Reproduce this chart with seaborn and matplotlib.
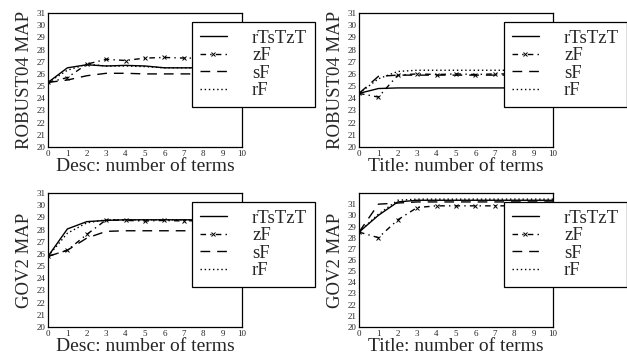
import numpy as np
import pandas as pd
import matplotlib
matplotlib.use("Agg")
import matplotlib.pyplot as plt
import seaborn as sns

terms = list(range(11))
methods = ["rTsTzT", "zF", "sF", "rF"]

# ROBUST04, Desc queries
r04_desc_rTsTzT = [25.3, 26.5, 26.75, 26.65, 26.7, 26.65, 26.5, 26.5, 26.5, 26.5, 26.5]
r04_desc_zF = [25.3, 25.7, 26.8, 27.2, 27.1, 27.3, 27.35, 27.3, 27.3, 27.3, 27.3]
r04_desc_sF = [25.3, 25.5, 25.85, 26.05, 26.05, 26.0, 26.0, 26.0, 26.0, 26.0, 26.0]
r04_desc_rF = [25.3, 26.3, 26.8, 26.65, 26.65, 26.6, 26.5, 26.5, 26.5, 26.5, 26.5]

# ROBUST04, Title queries
r04_title_rTsTzT = [24.4, 24.8, 24.85, 24.85, 24.85, 24.85, 24.85, 24.85, 24.85, 24.85, 24.85]
r04_title_zF = [24.4, 24.1, 25.9, 26.0, 25.95, 26.0, 25.95, 26.0, 26.0, 26.0, 26.0]
r04_title_sF = [24.4, 25.8, 25.9, 25.9, 25.9, 25.9, 25.9, 25.9, 25.9, 25.9, 25.9]
r04_title_rF = [24.4, 25.6, 26.2, 26.3, 26.3, 26.3, 26.3, 26.3, 26.3, 26.3, 26.3]

# GOV2, Desc queries
gov2_desc_rTsTzT = [25.8, 28.05, 28.65, 28.75, 28.8, 28.8, 28.8, 28.8, 28.8, 28.8, 28.8]
gov2_desc_zF = [25.8, 26.3, 27.6, 28.8, 28.75, 28.7, 28.75, 28.7, 28.75, 28.75, 28.75]
gov2_desc_sF = [25.8, 26.3, 27.3, 27.85, 27.9, 27.9, 27.9, 27.9, 27.9, 27.9, 27.9]
gov2_desc_rF = [25.8, 27.7, 28.55, 28.8, 28.8, 28.8, 28.8, 28.8, 28.8, 28.8, 28.8]

# GOV2, Title queries
gov2_title_rTsTzT = [28.5, 30.0, 31.2, 31.35, 31.35, 31.35, 31.35, 31.35, 31.35, 31.35, 31.35]
gov2_title_zF = [28.5, 28.0, 29.6, 30.7, 30.85, 30.85, 30.85, 30.85, 30.85, 30.85, 30.85]
gov2_title_sF = [28.5, 31.0, 31.1, 31.2, 31.2, 31.2, 31.2, 31.2, 31.2, 31.2, 31.2]
gov2_title_rF = [28.5, 30.1, 31.35, 31.45, 31.45, 31.45, 31.45, 31.45, 31.45, 31.45, 31.45]

panels = [
    ("ROBUST04 MAP", "Desc: number of terms", 31,
     [r04_desc_rTsTzT, r04_desc_zF, r04_desc_sF, r04_desc_rF]),
    ("ROBUST04 MAP", "Title: number of terms", 31,
     [r04_title_rTsTzT, r04_title_zF, r04_title_sF, r04_title_rF]),
    ("GOV2 MAP", "Desc: number of terms", 31,
     [gov2_desc_rTsTzT, gov2_desc_zF, gov2_desc_sF, gov2_desc_rF]),
    ("GOV2 MAP", "Title: number of terms", 32,
     [gov2_title_rTsTzT, gov2_title_zF, gov2_title_sF, gov2_title_rF]),
]

styles = {
    "rTsTzT": dict(linestyle="-", marker=None),
    "zF": dict(linestyle=(0, (4, 3, 1, 3)), marker="x", markersize=3,
               markeredgewidth=0.7, markeredgecolor="black"),
    "sF": dict(linestyle=(0, (7, 5)), marker=None),
    "rF": dict(linestyle=(0, (1, 2)), marker=None),
}

sns.set_style("white")
plt.rcParams["font.family"] = ["Liberation Serif", "DejaVu Serif"]

W, H = 627, 360
fig = plt.figure(figsize=(W / 100, H / 100), dpi=100)

# axes boxes in pixels: left, top, right, bottom
boxes = [(48, 13, 242, 147), (359, 13, 553, 147),
         (48, 193, 242, 327), (359, 193, 553, 327)]
legend_pos = [(192, 22), (504, 22), (192, 202), (504, 202)]

for (ylabel, xlabel, ytop, series), (l, t, r, b), (lx, ly) in zip(panels, boxes, legend_pos):
    ax = fig.add_axes([l / W, 1 - b / H, (r - l) / W, (b - t) / H])
    df = pd.DataFrame({"terms": terms * 4,
                       "MAP": sum(series, []),
                       "method": np.repeat(methods, len(terms))})
    for m in methods:
        sub = df[df["method"] == m]
        sns.lineplot(data=sub, x="terms", y="MAP", ax=ax, color="black",
                     linewidth=1.0, label=m, **styles[m])
    ax.set_xlim(0, 10)
    ax.set_ylim(20, ytop)
    ax.set_xticks(range(0, 11))
    ax.set_yticks(range(20, 32))
    ax.tick_params(direction="in", length=3, width=0.6, labelsize=6.5, pad=2)
    for s in ax.spines.values():
        s.set_color("black")
        s.set_linewidth(0.9)
    ax.set_xlabel(xlabel, fontsize=14, labelpad=0)
    ax.set_ylabel(ylabel, fontsize=13.5, labelpad=2)
    leg = ax.legend(loc="upper left", bbox_to_anchor=(lx / W, 1 - ly / H),
                    bbox_transform=fig.transFigure, fontsize=13.5,
                    frameon=True, fancybox=False, framealpha=1,
                    edgecolor="black", handlelength=1.45,
                    handletextpad=1.35, labelspacing=0.02, borderpad=0.4,
                    borderaxespad=0)
    leg.get_frame().set_linewidth(0.9)
    leg.set_zorder(10)

fig.savefig("out.png", dpi=100)
